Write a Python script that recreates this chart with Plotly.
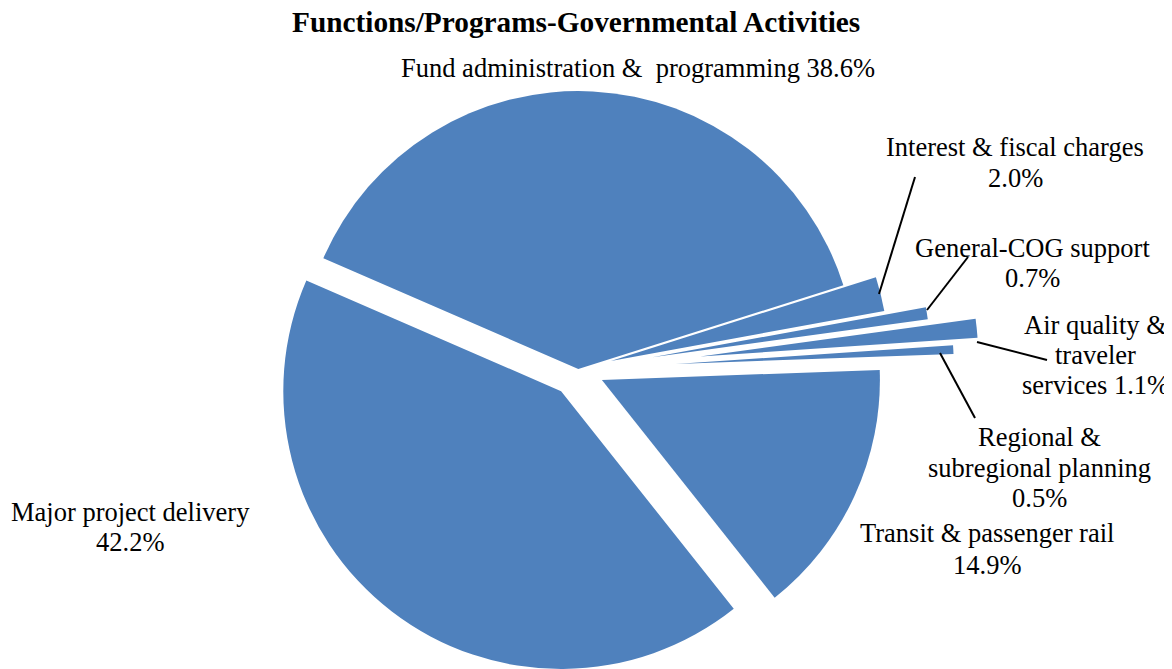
import math
import plotly.graph_objects as go

# ---------------- data ----------------
categories = [
    "Fund administration &  programming",
    "Interest & fiscal charges",
    "General-COG support",
    "Air quality & traveler services",
    "Regional & subregional planning",
    "Transit & passenger rail",
    "Major project delivery",
]
shares = [38.6, 2.0, 0.7, 1.1, 0.5, 14.9, 42.2]
chart_title = "Functions/Programs-Governmental Activities"

# ---------------- style / layout ----------------
PAGE_W, PAGE_H = 1172, 669
OFF = 8                              # default page body margin
W, H = PAGE_W - OFF, PAGE_H - OFF    # figure size
BLUE = "#4F81BD"
FONT = "Liberation Serif, Times New Roman, serif"
R = 278                      # pie radius (px)
CX, CY = 578.3, 369.0        # pie centre (page px from top-left)
ROT = -66.5                  # plotly rotation (first slice start)
explode_px = [0, 33.5, 75, 122.5, 97.5, 26, 28.2]

# words per label line (0 = line holding only the percentage)
line_words = [[5], [4, 0], [2, 0], [3, 1, 1], [2, 2, 0], [4, 0], [3, 0]]
# label line centres (page px): x, [y for each line]
label_pos = [
    (638, [68]),
    (1015, [147, 178]),
    (1032, [248, 278]),
    (1095, [325, 355, 385]),
    (1039, [437, 468, 498]),
    (987, [533, 565]),
    (130, [512, 542]),
]
# leader lines (page px): (x_slice, y_slice, x_label, y_label) or None
leaders = [
    None,
    (879, 294, 915, 177),
    (927, 310, 968, 257),
    (977, 342, 1047, 360),
    (940, 353, 975, 418),
    None,
    None,
]


def px2paper(x, y):
    return (x - OFF) / W, 1 - (y - OFF) / H


fig = go.Figure()
n = len(shares)
total = sum(shares)
start = 90 - ROT
cum = 0.0
for i, v in enumerate(shares):
    mid = start - (cum + v / 2) / total * 360
    cum += v
    d = explode_px[i]
    cx = CX + d * math.cos(math.radians(mid)) - OFF
    cy = CY - d * math.sin(math.radians(mid)) - OFF
    x0 = max(0.0, (cx - R) / W)
    x1 = min(1.0, (cx + R) / W)
    y0 = max(0.0, 1 - (cy + R) / H)
    y1 = min(1.0, 1 - (cy - R) / H)
    colors = [BLUE if j == i else "rgba(0,0,0,0)" for j in range(n)]
    fig.add_trace(go.Pie(
        values=shares, labels=categories, sort=False,
        direction="clockwise", rotation=ROT,
        marker=dict(colors=colors, line=dict(width=0)),
        textinfo="none", hoverinfo="skip", showlegend=False,
        domain=dict(x=[x0, x1], y=[y0, y1]),
    ))

annotations = []
tx, ty = px2paper(576, 22)
annotations.append(dict(
    text=f"<b>{chart_title}</b>", x=tx, y=ty, xref="paper", yref="paper",
    xanchor="center", yanchor="middle", showarrow=False,
    font=dict(family=FONT, size=29.3, color="black"),
))
for i, (name, v) in enumerate(zip(categories, shares)):
    tokens = name.split(" ")
    pct = f"{v:.1f}%"
    lines = []
    k = 0
    counts = line_words[i]
    for li, c in enumerate(counts):
        words = tokens[k:k + c]
        k += c
        txt = " ".join(words)
        if li == len(counts) - 1:
            txt = (txt + " " + pct) if c > 0 else pct
        lines.append(txt.replace("  ", " \u00a0"))
    lx, lys = label_pos[i]
    for txt, ly in zip(lines, lys):
        px_, py_ = px2paper(lx, ly)
        annotations.append(dict(
            text=txt, x=px_, y=py_, xref="paper", yref="paper",
            xanchor="center", yanchor="middle", showarrow=False,
            font=dict(family=FONT, size=26.5, color="black"),
        ))

shapes = []
for ld in leaders:
    if ld is None:
        continue
    xa, ya = px2paper(ld[0], ld[1])
    xb, yb = px2paper(ld[2], ld[3])
    shapes.append(dict(type="line", xref="paper", yref="paper",
                       x0=xa, y0=ya, x1=xb, y1=yb,
                       line=dict(color="black", width=2)))

fig.update_layout(
    width=W, height=H,
    margin=dict(l=0, r=0, t=0, b=0),
    paper_bgcolor="white", plot_bgcolor="white",
    annotations=annotations,
    shapes=shapes,
)

fig.write_html("out.html")
